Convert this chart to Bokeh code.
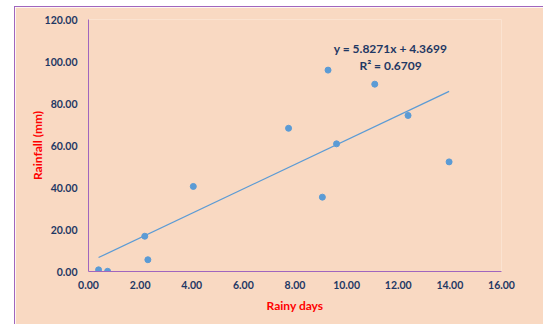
from bokeh.plotting import figure
from bokeh.models import Range1d, FixedTicker, NumeralTickFormatter, Label, ColumnDataSource
from bokeh.embed import file_html
from bokeh.resources import INLINE

# Data
rainy_days = [0.39, 0.74, 2.18, 2.30, 4.06, 7.75, 9.06, 9.28, 9.61, 11.09, 12.38, 13.97]
rainfall = [0.8, 0.1, 16.8, 5.6, 40.5, 68.2, 35.4, 95.9, 60.8, 89.2, 74.3, 52.2]
slope = 5.8271
intercept = 4.3699
r_squared = 0.6709
x_ticks = [0, 2, 4, 6, 8, 10, 12, 14, 16]
y_ticks = [0, 20, 40, 60, 80, 100, 120]

PEACH = "#F9D9C2"
PURPLE = "#A066BE"
NAVY = "#1F3864"
BLUE = "#5B9BD5"
FONT = "Lato"

p = figure(
    output_backend="svg", toolbar_location=None,
    frame_width=413, frame_height=252,
    min_border_left=73, min_border_top=12, min_border_right=42, min_border_bottom=53,
    x_range=Range1d(0, 16), y_range=Range1d(0, 120),
    background_fill_color=PEACH, border_fill_color=PEACH,
)
p.margin = (6, 0, 0, 14)
p.styles = {"border-left": f"1px solid {PURPLE}", "border-top": f"1px solid {PURPLE}"}
p.outline_line_color = None
p.grid.visible = False

for ax in (p.xaxis[0], p.yaxis[0]):
    ax.axis_line_color = PURPLE
    ax.axis_line_width = 1
    ax.major_tick_line_color = None
    ax.minor_tick_line_color = None
    ax.major_label_text_color = NAVY
    ax.major_label_text_font = FONT
    ax.major_label_text_font_style = "bold"
    ax.major_label_text_font_size = "10.5px"
    ax.formatter = NumeralTickFormatter(format="0.00")
    ax.axis_label_text_color = "#FF0000"
    ax.axis_label_text_font = FONT
    ax.axis_label_text_font_style = "bold"
    ax.axis_label_text_font_size = "12px"

p.xaxis.ticker = FixedTicker(ticks=x_ticks)
p.yaxis.ticker = FixedTicker(ticks=y_ticks)
p.xaxis.axis_label = "Rainy days"
p.yaxis.axis_label = "Rainfall (mm)"
p.xaxis.major_label_standoff = 3
p.yaxis.major_label_standoff = 5
p.xaxis.axis_label_standoff = 6
p.yaxis.axis_label_standoff = -3

src = ColumnDataSource(dict(x=rainy_days, y=rainfall))
x0, x1 = min(rainy_days), max(rainy_days)
p.line([x0, x1], [slope * x0 + intercept, slope * x1 + intercept], line_color=BLUE, line_width=1.25)
p.scatter("x", "y", source=src, size=6, fill_color=BLUE, line_color=BLUE)

eq = Label(x=11.7, y=106.2, text=f"y = {slope}x + {intercept}", text_align="center",
           text_baseline="middle", text_font=FONT, text_font_style="bold",
           text_font_size="12px", text_color=NAVY)
r2 = Label(x=11.7, y=98.1, text=f"R² = {r_squared}", text_align="center",
           text_baseline="middle", text_font=FONT, text_font_style="bold",
           text_font_size="12px", text_color=NAVY)
p.add_layout(eq)
p.add_layout(r2)

open("out.html", "w").write(file_html(p, INLINE))
